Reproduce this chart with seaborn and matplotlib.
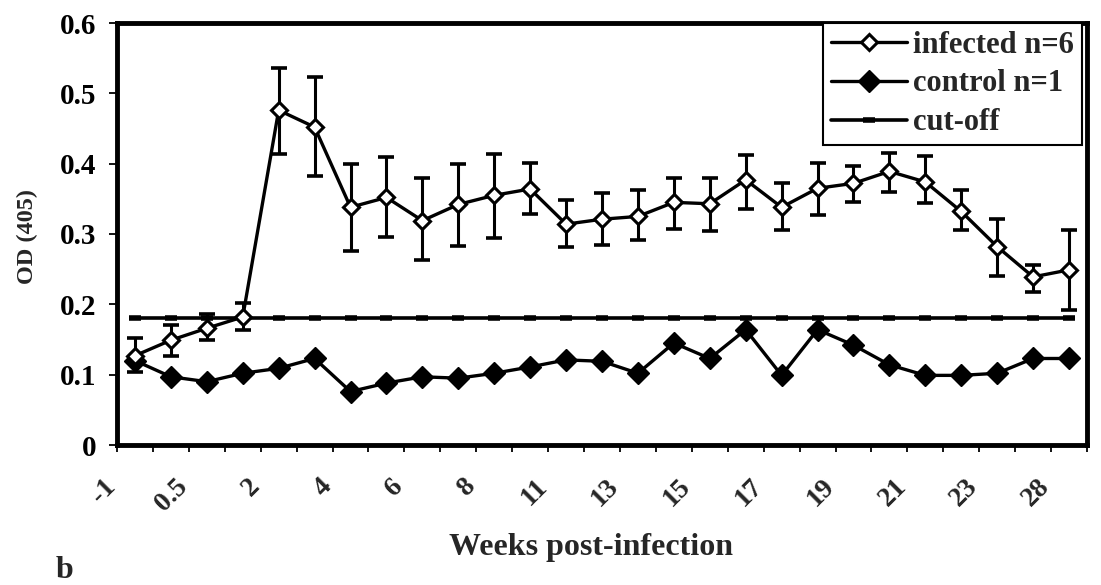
import numpy as np
import pandas as pd
import matplotlib
matplotlib.use("Agg")
import matplotlib.pyplot as plt
import matplotlib.transforms as mtransforms
import seaborn as sns

# Sampling weeks (every other one is labelled on the axis)
weeks = ["-1", "0", "0.5", "1", "2", "3", "4", "5", "6", "7", "8", "9", "11", "12",
         "13", "14", "15", "16", "17", "18", "19", "20", "21", "22", "23", "25", "28"]

# Mean OD of the infected group and the ends of its error bars
infected = [0.127, 0.149, 0.166, 0.182, 0.476, 0.452, 0.338, 0.352, 0.319, 0.342,
            0.355, 0.364, 0.314, 0.321, 0.325, 0.345, 0.343, 0.377, 0.338, 0.365,
            0.372, 0.389, 0.374, 0.332, 0.282, 0.239, 0.249]
infected_upper = [0.152, 0.171, 0.186, 0.202, 0.536, 0.523, 0.399, 0.409, 0.380, 0.399,
                  0.414, 0.401, 0.349, 0.359, 0.362, 0.379, 0.380, 0.413, 0.372, 0.401,
                  0.396, 0.415, 0.411, 0.363, 0.322, 0.256, 0.306]
infected_lower = [0.104, 0.127, 0.149, 0.164, 0.414, 0.383, 0.276, 0.296, 0.263, 0.283,
                  0.294, 0.328, 0.282, 0.285, 0.291, 0.307, 0.304, 0.335, 0.306, 0.327,
                  0.346, 0.360, 0.344, 0.306, 0.240, 0.218, 0.192]

# Single control animal
control = [0.120, 0.097, 0.090, 0.102, 0.109, 0.123, 0.076, 0.088, 0.097, 0.095,
           0.102, 0.111, 0.121, 0.119, 0.102, 0.145, 0.123, 0.164, 0.099, 0.164,
           0.142, 0.114, 0.099, 0.099, 0.102, 0.123, 0.123]

cutoff = 0.18

y_ticks = [0.0, 0.1, 0.2, 0.3, 0.4, 0.5, 0.6]
y_tick_labels = ["0", "0.1", "0.2", "0.3", "0.4", "0.5", "0.6"]

sns.set_theme(style="ticks")
plt.rcParams["font.family"] = ["Liberation Serif", "DejaVu Serif"]
plt.rcParams["font.weight"] = "bold"

pos = np.arange(len(weeks))
df = pd.DataFrame({
    "pos": pos,
    "week": weeks,
    "infected": infected,
    "control": control,
    "cutoff": [cutoff] * len(weeks),
})

W, H = 1101, 585
fig = plt.figure(figsize=(W / 100, H / 100), dpi=100)
fig.patch.set_facecolor("white")
ax = fig.add_axes([117 / W, 1 - 445 / H, 970 / W, 422 / H])
ax.set_facecolor("white")

# cut-off line
sns.lineplot(data=df, x="pos", y="cutoff", ax=ax, color="black", lw=2.6,
             marker="_", ms=9, mew=4, mec="black", label="cut-off",
             errorbar=None, zorder=2)
# control animal
sns.lineplot(data=df, x="pos", y="control", ax=ax, color="black", lw=2.4,
             marker="D", ms=11.5, mfc="black", mec="black", mew=1,
             label="control n=1", errorbar=None, zorder=3)
# error bars of the infected group
inf = np.array(infected)
yerr = [inf - np.array(infected_lower), np.array(infected_upper) - inf]
ax.errorbar(pos, inf, yerr=yerr, fmt="none", ecolor="black", elinewidth=2.2,
            capsize=6, capthick=2.6, zorder=4)
# infected group
sns.lineplot(data=df, x="pos", y="infected", ax=ax, color="black", lw=2.4,
             marker="D", ms=8.5, mfc="white", mec="black", mew=2.2,
             label="infected n=6", errorbar=None, zorder=5)

ax.set_xlim(-0.5, len(weeks) - 0.5)
ax.set_ylim(0, 0.6)

# y axis
ax.set_yticks(y_ticks)
ax.set_yticklabels(y_tick_labels, fontsize=21, fontweight="bold")
ax.tick_params(axis="y", direction="out", length=6, width=1.3, pad=9, colors="black")

# x axis: labels at every other week, tick marks between categories
ax.set_xticks(pos[::2])
ax.set_xticklabels(weeks[::2], rotation=45, ha="right", va="top",
                   fontsize=20, fontweight="bold")
ax.set_xticks(np.arange(-0.5, len(weeks), 1.0), minor=True)
ax.tick_params(axis="x", which="major", length=0, pad=21)
ax.tick_params(axis="x", which="minor", direction="out", length=5, width=1.3,
               colors="black")
shift = mtransforms.ScaledTranslation(-14 / 100, 0, fig.dpi_scale_trans)
for lab in ax.get_xticklabels():
    lab.set_transform(lab.get_transform() + shift)

for sp in ax.spines.values():
    sp.set_visible(True)
    sp.set_linewidth(3.5)
    sp.set_color("black")

ax.set_xlabel("Weeks post-infection", fontsize=23, fontweight="bold", va="center")
ax.xaxis.set_label_coords(0.489, -0.244)
ax.set_ylabel("OD (405)", fontsize=17.5, fontweight="bold", va="center")
ax.yaxis.set_label_coords(-0.0928, 0.493)

handles, labels = ax.get_legend_handles_labels()
order = [labels.index(n) for n in ["infected n=6", "control n=1", "cut-off"]]
leg = ax.legend([handles[i] for i in order], [labels[i] for i in order],
                loc="upper right", bbox_to_anchor=(1082 / W, 1 - 23 / H),
                bbox_transform=fig.transFigure, borderaxespad=0, frameon=True,
                fancybox=False, edgecolor="black", framealpha=1, fontsize=22,
                handlelength=2.5, labelspacing=0.32, borderpad=0.25,
                handletextpad=0.2)
leg.get_frame().set_linewidth(1.5)
leg.set_zorder(10)

fig.text(65 / W, 1 - 571 / H, "b", fontsize=23, fontweight="bold",
         ha="center", va="center")

fig.savefig("out.png", dpi=100)
